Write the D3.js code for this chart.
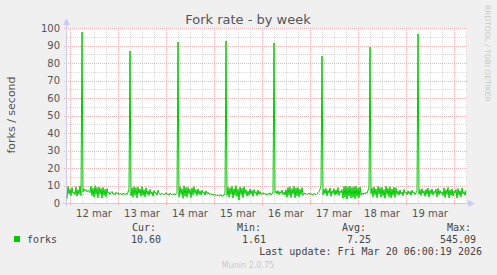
<!DOCTYPE html>
<html>
<head>
<meta charset="utf-8">
<script src="https://cdn.jsdelivr.net/npm/d3@7"></script>
<style>
  body { margin: 0; background: #f0f0f0; }
  svg { display: block; }
</style>
</head>
<body>
<svg></svg>
<script>
let w = 497;
let h = 275;

// data, one point every 30 min starting Mar 11 22:30
const lead = [2.5, 9.6, 5.2, 7.8, 4.1, 8.9, 5.5, 6.3, 4.8, 9.2, 3.9, 7.4, 5.1, 9.8, 4.2];
const spikes = [97.7, 86.9, 92.0, 92.6, 91.4, 84.0, 89.1, 96.6];
const after12 = [6.3, 8.1, 7.0, 7.6, 6.4, 7.2, 6.8,
  5.9, 9.7, 4.2, 8.5, 3.3, 9.9, 4.8, 8.9, 3.0, 9.2, 5.1, 8.4, 2.8, 9.0, 4.5, 7.8, 3.6, 8.3,
  5.6, 6.2, 4.9, 5.8, 6.6, 5.0, 5.4, 4.7, 6.1, 5.3, 5.9, 4.8, 5.5, 5.1, 4.6, 5.7, 5.2, 4.9, 5.4, 5.0, 6.2, 8.1];
const after13 = [4.1, 8.6, 3.2, 9.4, 4.6, 8.8, 2.9, 9.1,
  5.3, 8.0, 3.8, 9.5, 4.4, 7.6, 3.5, 8.7, 5.0,
  6.9, 4.3, 7.8, 5.2, 6.4, 3.9, 7.1, 5.6, 6.0, 4.5, 7.3, 5.8,
  5.2, 4.8, 5.6, 5.0, 4.6, 5.3, 5.9, 4.9, 5.1, 4.4, 5.7, 5.0, 4.8, 5.4, 4.6, 5.2, 4.9, 5.6];
const after14 = [3.6, 9.3, 4.9, 8.2, 2.7, 9.8, 4.0, 8.9, 3.4, 9.0, 5.2, 7.9, 3.1, 8.6, 4.7, 9.4,
  5.5, 7.6, 4.2, 8.1, 5.0, 6.9, 4.6, 7.4, 5.8, 6.3, 4.4, 7.0, 5.3, 6.1, 5.0,
  5.4, 4.9, 5.2, 4.6, 5.0, 4.3, 4.8, 4.1, 4.5, 3.9, 4.4, 4.7, 3.8, 4.2, 4.6, 5.9];
const after15 = [4.4, 9.1, 3.3, 8.7, 5.0, 9.6, 2.8, 8.3, 4.5, 9.9, 3.7, 7.9, 1.7, 9.2, 4.8, 8.5, 3.0, 9.4, 5.3, 7.6, 3.9,
  6.8, 4.5, 8.0, 5.1, 7.2, 3.8, 7.7, 5.5, 6.5, 4.2, 7.4, 5.0, 6.6, 4.8,
  5.3, 5.9, 4.9, 5.6, 5.1, 4.7, 5.4, 5.0, 5.8, 4.6, 5.2, 6.4];
const after16 = [5.9, 6.8, 5.2, 7.1, 4.8, 6.5, 5.6, 7.3, 5.0, 6.2, 4.6, 7.6,
  3.4, 8.9, 4.6, 9.3, 3.1, 8.2, 5.2, 9.6, 2.9, 8.6, 4.1, 9.0, 3.6, 7.8, 4.9, 8.8, 4.3,
  5.6, 5.1, 5.4, 4.8, 5.2, 5.7, 4.9, 5.3, 5.0, 4.6, 5.5, 5.1, 4.8, 5.4, 5.9, 6.6, 7.8, 9.6];
const after17 = [4.8, 7.9, 5.3, 8.4, 4.1, 7.2, 5.6, 8.6, 3.8, 7.0, 5.4, 8.2, 4.5, 7.5, 5.0, 8.8, 4.3, 6.9, 5.8, 7.7,
  2.6, 9.5, 3.4, 9.8, 2.3, 9.1, 4.0, 9.7, 2.8, 8.9, 3.2, 9.4, 2.5, 9.6, 3.7, 8.7, 2.9, 9.2, 4.4,
  5.6, 4.9, 5.8, 5.2, 6.1, 5.5, 7.2, 9.1];
const after18 = [5.4, 8.6, 3.5, 9.2, 4.7, 8.1, 3.0, 9.5, 5.1, 8.8, 3.3, 9.0, 4.2, 7.7, 2.7, 9.6, 4.9, 8.4, 3.6, 9.3,
  2.9, 8.0, 4.4, 9.1, 3.2, 8.7, 5.0,
  6.8, 4.6, 7.5, 5.2, 6.4, 4.1, 7.8, 5.5, 6.1, 4.8, 7.0, 5.3, 6.6, 4.4, 7.3, 5.6, 6.2, 4.9, 5.8, 6.9];
const after19 = [5.1, 7.6, 4.3, 8.2, 5.5, 6.9, 3.8, 7.8, 4.9, 8.5, 3.4, 7.3, 5.2, 8.0, 4.6, 6.7, 5.8, 7.9, 3.6, 8.4,
  4.8, 7.1, 5.4, 6.3, 4.2, 8.7, 3.1, 7.6, 5.0, 8.9, 2.9, 7.4, 4.5, 8.1, 3.9, 6.8, 5.6, 7.7, 2.8, 8.3,
  4.7, 7.0, 3.5, 8.6, 5.3, 6.5, 4.4, 7.2];

const yTicks = [0, 10, 20, 30, 40, 50, 60, 70, 80, 90, 100];
const dayLabels = ['12 mar', '13 mar', '14 mar', '15 mar', '16 mar', '17 mar', '18 mar', '19 mar'];
const legendHeads = ['Cur:', 'Min:', 'Avg:', 'Max:'];
const legendVals = ['10.60', '1.61', '7.25', '545.09'];

const afters = [after12, after13, after14, after15, after16, after17, after18, after19];
let series = lead.slice();
spikes.forEach((s, i) => { series.push(s); series = series.concat(afters[i]); });

const start = new Date(2026, 2, 11, 22, 30);
const step = 30 * 60 * 1000;
const data = series.map((v, i) => ({ t: new Date(+start + i * step), v: v }));

const svg = d3.select('svg')
  .attr('width', w)
  .attr('height', h)
  .style('font-family', 'DejaVu Sans');

// Scales
const xScale = d3.scaleTime()
  .domain([start, new Date(2026, 2, 20, 6, 0)])
  .range([67, 466]);

const yScale = d3.scaleLinear()
  .domain([0, 100])
  .range([203, 28]);

svg.append('rect').attr('width', w).attr('height', h).attr('fill', '#f0f0f0');
svg.append('rect')
  .attr('x', 67).attr('y', 28)
  .attr('width', 400).attr('height', 175)
  .attr('fill', '#fff');

// Grid
const minorY = d3.range(5, 101, 10);
svg.selectAll('.gy-min').data(minorY).enter().append('line')
  .attr('x1', 67).attr('x2', 467)
  .attr('y1', d => Math.round(yScale(d)) + 0.5).attr('y2', d => Math.round(yScale(d)) + 0.5)
  .attr('stroke', '#dcdcdc').attr('stroke-dasharray', '1,1');

const sixHours = d3.timeHour.every(6).range(start, new Date(2026, 2, 20, 6, 1))
  .filter(d => d.getHours() !== 0);
svg.selectAll('.gx-min').data(sixHours).enter().append('line')
  .attr('x1', d => Math.round(xScale(d)) + 0.5).attr('x2', d => Math.round(xScale(d)) + 0.5)
  .attr('y1', 28).attr('y2', 203)
  .attr('stroke', '#dcdcdc').attr('stroke-dasharray', '1,1');

svg.selectAll('.gy-maj').data(yTicks.slice(1)).enter().append('line')
  .attr('x1', 64).attr('x2', 467)
  .attr('y1', d => Math.round(yScale(d)) + 0.5).attr('y2', d => Math.round(yScale(d)) + 0.5)
  .attr('stroke', '#ecb4b4').attr('stroke-dasharray', '1,1');

const midnights = d3.timeDay.range(new Date(2026, 2, 12), new Date(2026, 2, 20, 1));
svg.selectAll('.gx-maj').data(midnights).enter().append('line')
  .attr('x1', d => Math.round(xScale(d)) + 0.5).attr('x2', d => Math.round(xScale(d)) + 0.5)
  .attr('y1', 28).attr('y2', 206)
  .attr('stroke', '#ecb4b4').attr('stroke-dasharray', '1,1');

// Axes
svg.append('line')
  .attr('x1', 66.5).attr('x2', 66.5).attr('y1', 22).attr('y2', 206)
  .attr('stroke', '#ccccf2');
svg.append('path').attr('d', 'M63,25 L66.5,18 L70,25 Z').attr('fill', '#ccccf2');
svg.append('line')
  .attr('x1', 63).attr('x2', 470).attr('y1', 203.5).attr('y2', 203.5)
  .attr('stroke', '#ccccf2');
svg.append('path').attr('d', 'M468,200 L475,203.5 L468,207 Z').attr('fill', '#ccccf2');

svg.selectAll('.ylab').data(yTicks).enter().append('text')
  .attr('x', 60).attr('y', d => yScale(d) + 3.5)
  .attr('text-anchor', 'end')
  .attr('font-size', '10px').attr('fill', '#555')
  .text(d => d);

svg.selectAll('.xlab').data(dayLabels).enter().append('text')
  .attr('x', (d, i) => xScale(new Date(2026, 2, 12 + i, 12)))
  .attr('y', 217)
  .attr('text-anchor', 'middle')
  .attr('font-size', '10px').attr('fill', '#555')
  .text(d => d);

// Line
const line = d3.line()
  .x(d => xScale(d.t))
  .y(d => yScale(d.v));

svg.append('path')
  .datum(data)
  .attr('d', line)
  .attr('fill', 'none')
  .attr('stroke', '#00cc00')
  .attr('stroke-width', 1);

// Titles
svg.append('text')
  .attr('x', 248).attr('y', 24)
  .attr('text-anchor', 'middle')
  .attr('font-size', '13px').attr('fill', '#555')
  .text('Fork rate - by week');

svg.append('text')
  .attr('transform', 'translate(15,115) rotate(-90)')
  .attr('text-anchor', 'middle')
  .attr('font-size', '11px').attr('fill', '#555')
  .text('forks / second');

svg.append('text')
  .attr('transform', 'translate(485,5) rotate(90)')
  .attr('font-size', '7.5px').attr('fill', '#c8c8c8')
  .text('RRDTOOL / TOBI OETIKER');

// Legend
const legend = svg.append('g')
  .style('font-family', 'DejaVu Sans Mono')
  .attr('font-size', '10px').attr('fill', '#444');

legend.append('rect')
  .attr('x', 14).attr('y', 236).attr('width', 6).attr('height', 6)
  .attr('fill', '#00cc00');
legend.append('text').attr('x', 27).attr('y', 243).text('forks');

legend.selectAll('.lh').data(legendHeads).enter().append('text')
  .attr('x', (d, i) => 132 + i * 105).attr('y', 231)
  .text(d => d);
legend.selectAll('.lv').data(legendVals).enter().append('text')
  .attr('x', (d, i) => 161 + i * 105).attr('y', 243)
  .attr('text-anchor', 'end')
  .text(d => d);

legend.append('text')
  .attr('x', 482).attr('y', 255)
  .attr('text-anchor', 'end')
  .text('Last update: Fri Mar 20 06:00:19 2026');

svg.append('text')
  .attr('x', 248).attr('y', 268)
  .attr('text-anchor', 'middle')
  .attr('font-size', '8px').attr('fill', '#c8c8c8')
  .text('Munin 2.0.75');
</script>
</body>
</html>
